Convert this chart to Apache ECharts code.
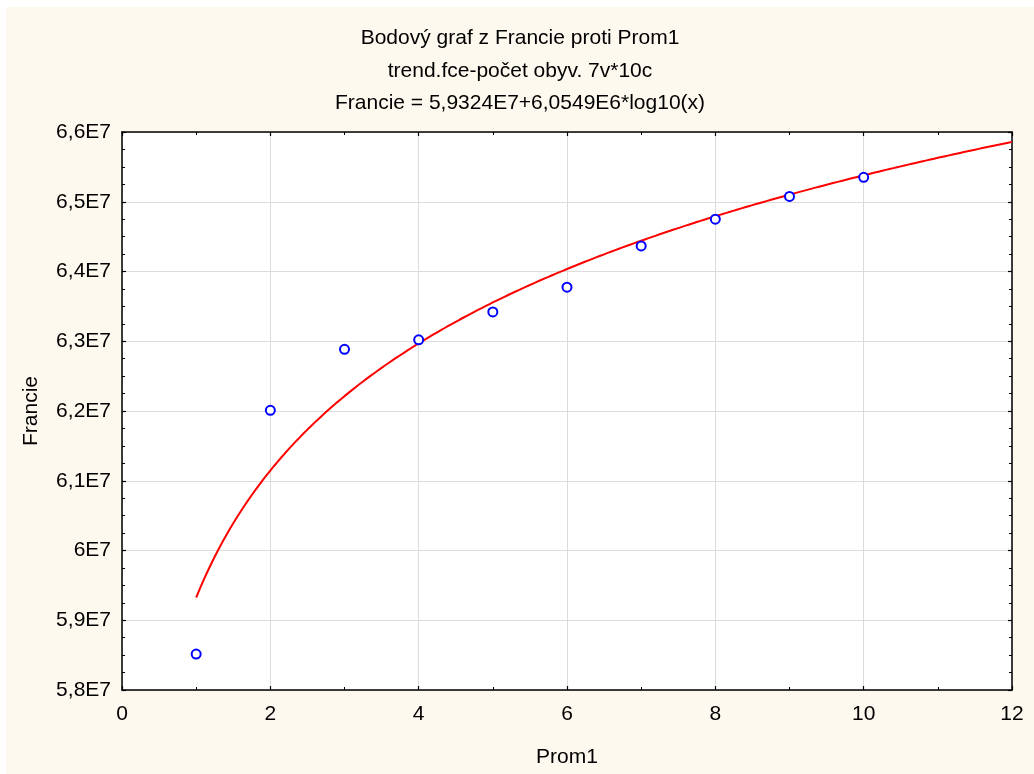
<!DOCTYPE html>
<html>
<head>
<meta charset="utf-8">
<script src="https://cdn.jsdelivr.net/npm/echarts@6/dist/echarts.min.js"></script>
<style>
  html, body { margin: 0; padding: 0; background: #ffffff; }
  #chart { position: absolute; left: 6px; top: 7px; width: 1028px; height: 767px; background: #fdf9ef; }
</style>
</head>
<body>
<div id="chart"></div>
<script>
// Observations: Prom1 (x) and Francie population (y)
const prom1 = [1, 2, 3, 4, 5, 6, 7, 8, 9, 10];
const francie = [58515000, 62010000, 62885000, 63020000, 63420000, 63775000, 64367000, 64750000, 65076000, 65350000];

// Logarithmic trend fitted to the observations: Francie = a + b*log10(x)
const trendIntercept = 5.9324e7;
const trendSlope = 6.0549e6;
const trendFrom = 1;
const trendTo = 12;

// Axis ticks and their labels
const xTicks = [0, 2, 4, 6, 8, 10, 12];
const yTicks = [58000000, 59000000, 60000000, 61000000, 62000000, 63000000, 64000000, 65000000, 66000000];
const yTickLabels = ['5,8E7', '5,9E7', '6E7', '6,1E7', '6,2E7', '6,3E7', '6,4E7', '6,5E7', '6,6E7'];

const titleLines = [
  'Bodový graf z Francie proti Prom1',
  'trend.fce-počet obyv. 7v*10c',
  'Francie = 5,9324E7+6,0549E6*log10(x)'
];

const FONT = '"Liberation Sans", Arial, sans-serif';
const FONT_SIZE = 21;

const trendPoints = [];
for (let i = 0; i <= 220; i++) {
  const x = trendFrom + (trendTo - trendFrom) * i / 220;
  trendPoints.push([x, trendIntercept + trendSlope * Math.log10(x)]);
}

const yLabelOf = v => {
  const idx = yTicks.findIndex(t => Math.abs(t - v) < 1);
  return idx >= 0 ? yTickLabels[idx] : '';
};

const axisLine = { show: true, onZero: false, lineStyle: { color: '#000', width: 1.5 } };
const axisTick = { show: true, inside: true, length: 4, lineStyle: { color: '#000', width: 1.2 } };
const minorTick = { show: true, length: 3, lineStyle: { color: '#000', width: 1 } };

const chart = echarts.init(document.getElementById('chart'), null, { renderer: 'canvas' });
chart.setOption({
  backgroundColor: '#fdf9ef',
  animation: false,
  title: {
    text: titleLines.join('\n'),
    left: 'center',
    top: 10,
    textStyle: { fontFamily: FONT, fontSize: FONT_SIZE, fontWeight: 'normal', color: '#000', lineHeight: 32.5 }
  },
  grid: { left: 116, top: 125, right: 22, bottom: 84, show: true, backgroundColor: '#ffffff', borderWidth: 0 },
  xAxis: [{
    type: 'value', min: xTicks[0], max: xTicks[xTicks.length - 1], interval: 2,
    name: 'Prom1', nameLocation: 'middle', nameGap: 57,
    nameTextStyle: { fontFamily: FONT, fontSize: FONT_SIZE, color: '#000' },
    axisLine, axisTick, minorTick: Object.assign({ splitNumber: 2 }, minorTick),
    axisLabel: { fontFamily: FONT, fontSize: FONT_SIZE, color: '#000', margin: 14 },
    splitLine: { show: true, lineStyle: { color: '#dcdcdc', width: 1 } }
  }, {
    type: 'value', position: 'top', min: xTicks[0], max: xTicks[xTicks.length - 1], interval: 2,
    axisLine, axisTick, minorTick: Object.assign({ splitNumber: 2 }, minorTick),
    axisLabel: { show: false }, splitLine: { show: false }
  }],
  yAxis: [{
    type: 'value', min: yTicks[0], max: yTicks[yTicks.length - 1], interval: 1000000,
    name: 'Francie', nameLocation: 'middle', nameGap: 80, nameRotate: 90,
    nameTextStyle: { fontFamily: FONT, fontSize: FONT_SIZE, color: '#000' },
    axisLine, axisTick, minorTick: Object.assign({ splitNumber: 4 }, minorTick),
    axisLabel: { fontFamily: FONT, fontSize: FONT_SIZE, color: '#000', margin: 11, formatter: yLabelOf },
    splitLine: { show: true, lineStyle: { color: '#dcdcdc', width: 1 } }
  }, {
    type: 'value', position: 'right', min: yTicks[0], max: yTicks[yTicks.length - 1], interval: 1000000,
    axisLine, axisTick, minorTick: Object.assign({ splitNumber: 4 }, minorTick),
    axisLabel: { show: false }, splitLine: { show: false }
  }],
  series: [{
    type: 'line',
    data: trendPoints,
    showSymbol: false,
    smooth: false,
    lineStyle: { color: '#ff0000', width: 2 },
    z: 2
  }, {
    type: 'scatter',
    data: prom1.map((x, i) => [x, francie[i]]),
    symbol: 'circle',
    symbolSize: 9,
    itemStyle: { color: '#ffffff', borderColor: '#0000ff', borderWidth: 2, opacity: 1 },
    z: 3
  }]
});
</script>
</body>
</html>
